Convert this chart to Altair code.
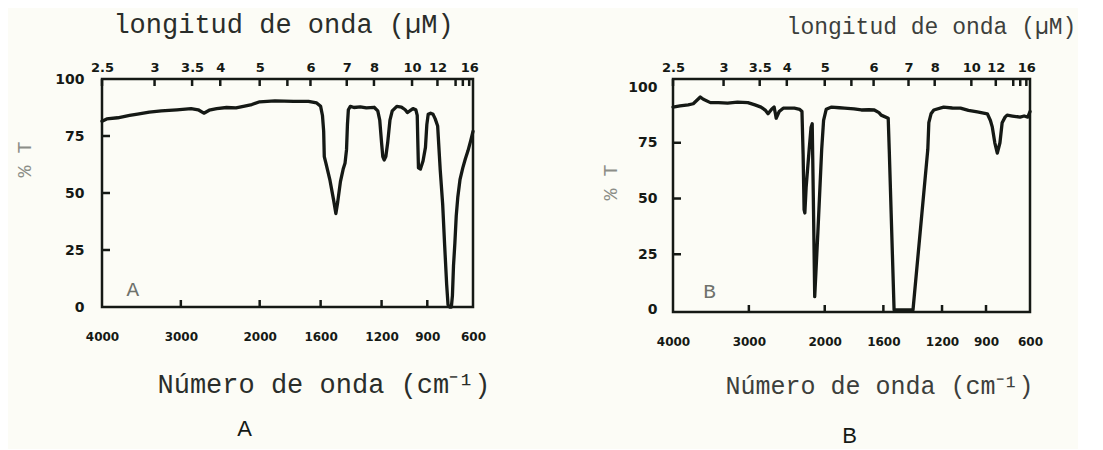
import altair as alt
import pandas as pd

# ---------------- data ----------------
A_WN = [4000, 3940, 3800, 3650, 3549, 3400, 3248, 3050, 2870, 2780, 2708, 2640, 2545, 2420,
        2300, 2207, 2100, 2000, 1900, 1778, 1680, 1626, 1600, 1588, 1580, 1576, 1565, 1540,
        1515, 1500, 1488, 1470, 1452, 1440, 1430, 1424, 1418, 1405, 1381, 1340, 1300, 1249,
        1225, 1212, 1200, 1192, 1183, 1172, 1160, 1145, 1130, 1100, 1070, 1045, 1031, 1015,
        994, 975, 966, 962, 958, 945, 928, 912, 903, 894, 878, 862, 848, 832, 815, 799, 786,
        773, 764, 755, 742, 735, 728, 719, 710, 700, 685, 667, 650, 633, 615, 600]
A_T = [81.5, 82.5, 83, 84, 84.6, 85.5, 86, 86.5, 87, 86.5, 85, 86.3, 87, 87.5,
       87.3, 88, 88.8, 90, 90.4, 90.2, 90.2, 89.5, 88, 84, 77, 66, 63, 56,
       47, 41, 46, 55, 60.5, 63, 69, 80, 86.5, 88, 87.5, 87.8, 87.3, 87.6,
       86, 82, 72, 66, 64.5, 66, 72, 82, 86, 88, 87.7, 86.5, 85.3, 86,
       87, 86.5, 84, 72, 61, 60.5, 64, 70, 80, 84.5, 85, 84.5, 82.5, 79.4, 60, 45, 27,
       10, 1, 0, 0, 5, 18, 28, 40, 48, 56, 61, 65, 68.5, 73, 77]

B_WN = [4000, 3907, 3800, 3733, 3640, 3600, 3507, 3400, 3280, 3150, 3013, 2920, 2840, 2780,
        2747, 2700, 2667, 2650, 2640, 2600, 2547, 2400, 2330, 2300, 2285, 2272, 2262, 2245,
        2205, 2180, 2165, 2150, 2132, 2090, 2040, 2015, 1990, 1953, 1900, 1865, 1800, 1750,
        1700, 1662, 1630, 1615, 1567, 1560, 1527, 1500, 1420, 1398, 1297, 1290, 1275, 1256,
        1189, 1130, 1074, 1020, 959, 891, 870, 857, 840, 823, 805, 790, 770, 756, 720, 668,
        640, 615, 600]
B_T = [91, 91.5, 92, 92.5, 95.5, 94.5, 93, 93, 92.8, 93.2, 93, 92, 91, 89.5,
       88, 90, 91, 88, 86, 89, 90.5, 90.5, 90, 89, 70, 45, 43.5, 55,
       72, 82, 83.5, 50, 6, 35, 72, 85, 90, 91, 90.7, 90.5, 90.2, 89.7,
       89.8, 89.7, 88.5, 87.4, 86, 72, 0, 0, 0, 0, 72, 84, 88, 89.7,
       91, 90.6, 90.5, 89.5, 88.8, 88, 85, 82, 75, 70.4, 75, 84, 86.5, 87.4, 87, 86.5,
       87, 86.5, 89]

WN_TICKS = [4000, 3000, 2000, 1600, 1200, 900, 600]
WN_INNER_TICKS = [3000, 2000, 1600, 1200, 900]
UM_LABELS = [2.5, 3, 3.5, 4, 5, 6, 7, 8, 10, 12, 16]
UM_MINOR = [5.5, 14, 15]
T_TICKS = [0, 25, 50, 75, 100]
T_INNER_TICKS = [25, 50, 75]

TOP_TITLE = "longitud de onda (µM)"
BOTTOM_TITLE = "Número de onda (cm⁻¹)"
Y_TITLE = "% T"

INK = "#151915"
BG = "#fcfcf6"
BREAK = 0.425
TICK_FONT = "DejaVu Sans"
TYPE_FONT = "Liberation Mono"


def panel(wn, t, letter, cfg):
    W, H = cfg["W"], cfg["H"]
    df = pd.DataFrame({"wn": wn, "t": t, "i": list(range(len(wn)))})
    xs = alt.Scale(domain=[4000, 2000, 600], range=[0, BREAK * W, W], nice=False, zero=False)
    ys = alt.Scale(domain=cfg["ydom"], nice=False, zero=False)

    bottom_axis = alt.Axis(
        orient="bottom", values=WN_TICKS, format="d", ticks=False, domain=False, grid=False,
        labelFont=TICK_FONT, labelFontWeight="bold", labelFontSize=cfg["tick_fs"], labelColor=INK,
        labelPadding=cfg["bl_pad"], labelFlush=False, labelOverlap=False,
        title=BOTTOM_TITLE, titleFont=TYPE_FONT, titleFontSize=cfg["title_fs"], titleFontWeight="normal",
        titleColor=cfg["title_color"], titleX=cfg["bt_x"], titleY=cfg["bt_y"],
        titleAlign="left", titleBaseline="alphabetic")
    left_axis = alt.Axis(
        orient="left", values=T_TICKS, format="d", ticks=False, domain=False, grid=False,
        labelFont=TICK_FONT, labelFontWeight="bold", labelFontSize=cfg["ytick_fs"], labelColor=INK,
        labelPadding=cfg["yl_pad"],
        title=Y_TITLE, titleFont=TYPE_FONT, titleFontSize=20, titleFontWeight="normal",
        titleColor="#8c8e88", titleAngle=270, titleX=cfg["yt_x"], titleY=cfg["yt_y"],
        titleAlign="center", titleBaseline="middle")
    top_axis = alt.Axis(
        orient="top", values=[1e4 / u for u in UM_LABELS], labelExpr="round(100000/datum.value)/10",
        ticks=False, domain=False, grid=False, labelFlush=False, labelOverlap=False,
        labelFont=TICK_FONT, labelFontWeight="bold", labelFontSize=cfg["tick_fs"] + 1, labelColor=INK,
        labelPadding=5,
        title=TOP_TITLE, titleFont=TYPE_FONT, titleFontSize=cfg["top_fs"], titleFontWeight="normal",
        titleColor=cfg["title_color"], titleX=cfg["tt_x"], titleY=cfg["tt_y"],
        titleAlign="center", titleBaseline="alphabetic")

    line = alt.Chart(df).mark_line(color=INK, strokeWidth=3.3, strokeJoin="round", strokeCap="round").encode(
        x=alt.X("wn:Q", scale=xs, axis=bottom_axis),
        y=alt.Y("t:Q", scale=ys, axis=left_axis),
        order="i:Q",
    )

    top_df = pd.DataFrame({"wn": [1e4 / u for u in UM_LABELS + UM_MINOR]})
    top_ticks = alt.Chart(top_df).mark_rule(color=INK, strokeWidth=2.5).encode(
        x=alt.X("wn:Q", scale=xs, axis=top_axis),
        y=alt.value(0), y2=alt.value(7),
    )
    bot_df = pd.DataFrame({"wn": WN_INNER_TICKS})
    bot_ticks = alt.Chart(bot_df).mark_rule(color=INK, strokeWidth=2.5).encode(
        x=alt.X("wn:Q", scale=xs, axis=None),
        y=alt.value(H), y2=alt.value(H - 7),
    )
    left_df = pd.DataFrame({"t": T_INNER_TICKS})
    left_ticks = alt.Chart(left_df).mark_rule(color=INK, strokeWidth=2.5).encode(
        y=alt.Y("t:Q", scale=ys, axis=left_axis),
        x=alt.value(0), x2=alt.value(8),
    )
    lab_df = pd.DataFrame({"wn": [cfg["lab_wn"]], "t": [cfg["lab_t"]], "txt": [letter]})
    inner = alt.Chart(lab_df).mark_text(
        font=TYPE_FONT, fontSize=21, color="#6f726c", align="left", baseline="alphabetic"
    ).encode(
        x=alt.X("wn:Q", scale=xs, axis=None),
        y=alt.Y("t:Q", scale=ys, axis=left_axis),
        text="txt:N",
    )

    return alt.layer(line, top_ticks, bot_ticks, left_ticks, inner).resolve_axis(
        x="independent"
    ).properties(
        width=W, height=H,
        title=alt.TitleParams(letter, orient="bottom", anchor="middle", frame="group",
                              dx=cfg["let_dx"], offset=cfg["let_off"], font="Liberation Sans",
                              fontSize=22, fontWeight="normal", color=INK),
    )


cfgA = dict(W=371, H=228, ydom=[0, 100], tick_fs=12, ytick_fs=14, bl_pad=24, yl_pad=18,
            title_fs=27, top_fs=27, title_color="#2a2d2a", bt_x=55, bt_y=85,
            yt_x=-78, yt_y=80, tt_x=181, tt_y=-47, lab_wn=3690, lab_t=5,
            let_dx=-43, let_off=22)
cfgB = dict(W=357, H=233, ydom=[-0.9, 103.6], tick_fs=12, ytick_fs=14, bl_pad=24, yl_pad=16,
            title_fs=25, top_fs=23, title_color="#3c3f3c", bt_x=52, bt_y=81,
            yt_x=-63, yt_y=103, tt_x=258, tt_y=-46, lab_wn=3600, lab_t=5.5,
            let_dx=-2, let_off=28)

chart = alt.hconcat(
    panel(A_WN, A_T, "A", cfgA),
    panel(B_WN, B_T, "B", cfgB),
    spacing=106,
).configure_view(
    stroke=INK, strokeWidth=2.5
).properties(
    background=BG, padding={"left": 4, "top": 0, "right": 0, "bottom": 0}
)

chart.save("out.html", embed_options={"renderer": "svg", "actions": False})
